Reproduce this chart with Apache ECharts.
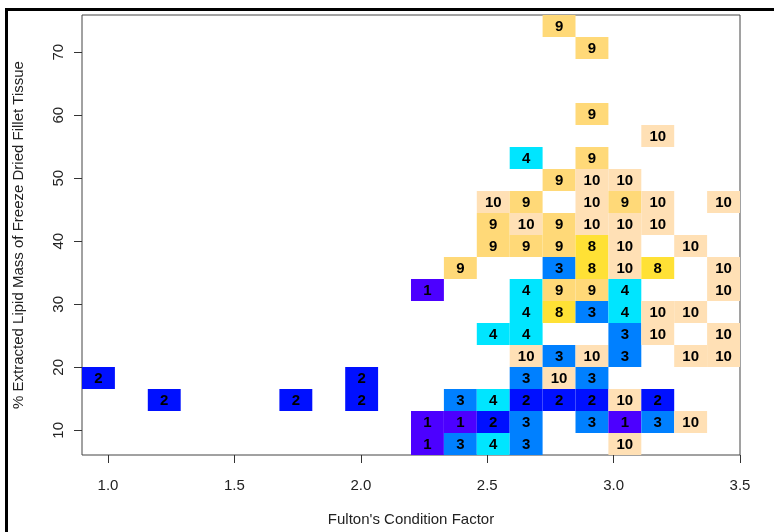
<!DOCTYPE html>
<html>
<head>
<meta charset="utf-8">
<script src="https://cdn.jsdelivr.net/npm/echarts@6/dist/echarts.min.js"></script>
<style>
  html, body { margin: 0; padding: 0; background: #fff; }
  #chart { width: 774px; height: 532px; }
</style>
</head>
<body>
<div id="chart"></div>
<script>
// bins (data units): 20 x 20 grid over the plotted range
var xStart = 0.897, xStep = 0.13015;
var yStart = 6.09, yStep = 3.49;

var xTicks = [1.0, 1.5, 2.0, 2.5, 3.0, 3.5];
var yTicks = [10, 20, 30, 40, 50, 60, 70];

// [column, row, cluster], row 0 at the bottom
var cells = [
  [10, 0, 1], [11, 0, 3], [12, 0, 4], [13, 0, 3], [16, 0, 10],
  [10, 1, 1], [11, 1, 1], [12, 1, 2], [13, 1, 3], [15, 1, 3], [16, 1, 1], [17, 1, 3], [18, 1, 10],
  [2, 2, 2], [6, 2, 2], [8, 2, 2], [11, 2, 3], [12, 2, 4], [13, 2, 2], [14, 2, 2], [15, 2, 2], [16, 2, 10], [17, 2, 2],
  [0, 3, 2], [8, 3, 2], [13, 3, 3], [14, 3, 10], [15, 3, 3],
  [13, 4, 10], [14, 4, 3], [15, 4, 10], [16, 4, 3], [18, 4, 10], [19, 4, 10],
  [12, 5, 4], [13, 5, 4], [16, 5, 3], [17, 5, 10], [19, 5, 10],
  [13, 6, 4], [14, 6, 8], [15, 6, 3], [16, 6, 4], [17, 6, 10], [18, 6, 10],
  [10, 7, 1], [13, 7, 4], [14, 7, 9], [15, 7, 9], [16, 7, 4], [19, 7, 10],
  [11, 8, 9], [14, 8, 3], [15, 8, 8], [16, 8, 10], [17, 8, 8], [19, 8, 10],
  [12, 9, 9], [13, 9, 9], [14, 9, 9], [15, 9, 8], [16, 9, 10], [18, 9, 10],
  [12, 10, 9], [13, 10, 10], [14, 10, 9], [15, 10, 10], [16, 10, 10], [17, 10, 10],
  [12, 11, 10], [13, 11, 9], [15, 11, 10], [16, 11, 9], [17, 11, 10], [19, 11, 10],
  [14, 12, 9], [15, 12, 10], [16, 12, 10],
  [13, 13, 4], [15, 13, 9],
  [17, 14, 10],
  [15, 15, 9],
  [15, 18, 9],
  [14, 19, 9]
];

var clusterColors = {
  1: "#4C00FF", 2: "#0010FF", 3: "#0080FF", 4: "#00E5FF",
  8: "#FFE135", 9: "#FFD978", 10: "#FFE0B5"
};

var seriesData = cells.map(function (c) {
  return [xStart + (c[0] + 0.5) * xStep, yStart + (c[1] + 0.5) * yStep, c[2]];
});

var chart = echarts.init(document.getElementById("chart"));
var font = "Liberation Sans";

var option = {
  animation: false,
  grid: {
    left: 82, right: 34, top: 15, bottom: 76,
    show: true, borderColor: "#444", borderWidth: 1, backgroundColor: "transparent"
  },
  xAxis: {
    type: "value",
    min: xStart,
    max: 3.5,
    name: "Fulton's Condition Factor",
    nameLocation: "middle",
    nameGap: 57,
    nameTextStyle: { fontFamily: font, fontSize: 15, color: "#222" },
    axisLine: { show: false },
    axisTick: { show: true, length: 8, customValues: xTicks, lineStyle: { color: "#333" } },
    axisLabel: {
      customValues: xTicks, margin: 23, fontFamily: font, fontSize: 15, color: "#222",
      formatter: function (v) { return v.toFixed(1); }
    },
    splitLine: { show: false }
  },
  yAxis: {
    type: "value",
    min: yStart,
    max: 75.9,
    name: "% Extracted Lipid Mass of Freeze Dried Fillet Tissue",
    nameLocation: "middle",
    nameGap: 56,
    nameTextStyle: { fontFamily: font, fontSize: 15, color: "#222" },
    axisLine: { show: false },
    axisTick: { show: true, length: 8, customValues: yTicks, lineStyle: { color: "#333" } },
    axisLabel: {
      customValues: yTicks, margin: 16, rotate: 90, fontFamily: font, fontSize: 15, color: "#222"
    },
    splitLine: { show: false }
  },
  graphic: [{
    type: "rect",
    shape: { x: 6.5, y: 9.5, width: 900, height: 700 },
    style: { fill: "none", stroke: "#000", lineWidth: 3 },
    silent: true
  }],
  series: [{
    type: "custom",
    coordinateSystem: "cartesian2d",
    encode: { x: 0, y: 1 },
    data: seriesData,
    renderItem: function (params, api) {
      var cx = api.value(0), cy = api.value(1), k = api.value(2);
      var p0 = api.coord([cx - xStep / 2, cy + yStep / 2]);
      var p1 = api.coord([cx + xStep / 2, cy - yStep / 2]);
      return {
        type: "group",
        children: [{
          type: "rect",
          shape: { x: p0[0], y: p0[1], width: p1[0] - p0[0], height: p1[1] - p0[1] },
          style: { fill: clusterColors[k] }
        }, {
          type: "text",
          style: {
            text: String(k),
            x: (p0[0] + p1[0]) / 2,
            y: (p0[1] + p1[1]) / 2 + 1,
            align: "center",
            verticalAlign: "middle",
            fontFamily: font,
            fontWeight: "bold",
            fontSize: 15,
            fill: "#000"
          }
        }]
      };
    }
  }]
};

chart.setOption(option);
</script>
</body>
</html>
